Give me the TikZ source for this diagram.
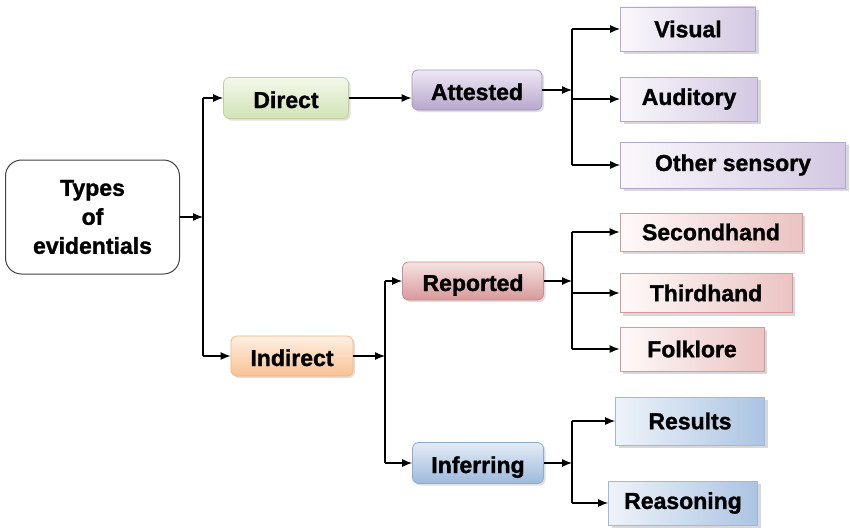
\documentclass[tikz,border=0pt]{standalone}
\usepackage{fontspec}
\setmainfont{Liberation Sans}[BoldFeatures={FakeBold=1.3}]
\usetikzlibrary{arrows.meta,shadows}
\definecolor{grnA}{HTML}{F3F8EA}\definecolor{grnB}{HTML}{D2E3B6}\definecolor{grnD}{HTML}{BCD49A}
\definecolor{purA}{HTML}{EEE8F5}\definecolor{purB}{HTML}{B7A6CC}\definecolor{purD}{HTML}{A593BE}
\definecolor{lpuA}{HTML}{FAF8FC}\definecolor{lpuB}{HTML}{D3C8E2}
\definecolor{redA}{HTML}{F6E3E3}\definecolor{redB}{HTML}{D7999A}\definecolor{redD}{HTML}{CF8A8B}
\definecolor{lreA}{HTML}{FFFAFA}\definecolor{lreB}{HTML}{EBC3C3}
\definecolor{orA}{HTML}{FEF0E3}\definecolor{orB}{HTML}{F9C192}\definecolor{orD}{HTML}{F5B47E}
\definecolor{bluA}{HTML}{E4ECF6}\definecolor{bluB}{HTML}{9DB9DC}\definecolor{bluD}{HTML}{8EAAD0}
\definecolor{lblA}{HTML}{EEF3FA}\definecolor{lblB}{HTML}{ABC4E2}
\tikzset{
  txt/.style={font=\fontsize{23}{29}\selectfont\bfseries, text=black, inner sep=0pt, align=center},
  mid/.style={txt, text height=20pt, text depth=0pt, rounded corners=6pt, line width=0.8pt, drop shadow={shadow xshift=2pt,shadow yshift=-2pt,fill=black!25}},
  leaf/.style={txt, line width=0.8pt, drop shadow={shadow xshift=3pt,shadow yshift=-3pt,fill=black!30}},
  gbox/.style={mid, draw=grnD, top color=grnA, bottom color=grnB},
  pbox/.style={mid, draw=purD, top color=purA, bottom color=purB},
  rbox/.style={mid, draw=redD, top color=redA, bottom color=redB},
  obox/.style={mid, draw=orD, top color=orA, bottom color=orB},
  bbox/.style={mid, draw=bluD, top color=bluA, bottom color=bluB},
  pleaf/.style={leaf, draw=purB, left color=lpuA, right color=lpuB},
  rleaf/.style={leaf, draw=redB, left color=lreA, right color=lreB},
  bleaf/.style={leaf, draw=bluB, left color=lblA, right color=lblB},
  conn/.style={line width=1.2pt, draw=black},
  arr/.style={conn, -{Latex[length=10pt,width=8pt]}},
}
\begin{document}
\begin{tikzpicture}[x=1pt,y=-1pt]
\useasboundingbox (0,0) rectangle (850,527);
\node[txt, draw=black!75, line width=1pt, rounded corners=16pt, fill=white, minimum width=174pt, minimum height=114pt] (types) at (92.5,217) {Types\\of\\evidentials};
\node[gbox, minimum width=125pt, minimum height=41pt] (direct) at (286,98) {Direct};
\node[pbox, minimum width=130pt, minimum height=40pt] (attested) at (477,90) {Attested};
\node[pleaf, minimum width=135pt, minimum height=44pt] (visual) at (688,29) {Visual};
\node[pleaf, minimum width=137pt, minimum height=44pt] (auditory) at (689,99) {Auditory};
\node[pleaf, minimum width=225pt, minimum height=46pt] (other) at (733,165) {Other sensory};
\node[obox, minimum width=122pt, minimum height=40pt] (indirect) at (292,356) {Indirect};
\node[rbox, minimum width=141pt, minimum height=38pt] (reported) at (473,281) {Reported};
\node[rleaf, minimum width=182pt, minimum height=38pt] (second) at (711,232) {Secondhand};
\node[rleaf, minimum width=172pt, minimum height=39pt] (third) at (706,293) {Thirdhand};
\node[rleaf, minimum width=144pt, minimum height=44pt] (folk) at (692,349) {Folklore};
\node[bbox, minimum width=131pt, minimum height=41pt] (infer) at (478,463) {Inferring};
\node[bleaf, minimum width=149pt, minimum height=48pt] (results) at (690,421) {Results};
\node[bleaf, minimum width=149pt, minimum height=44pt] (reason) at (683,503) {Reasoning};
% junctions
\coordinate (jT) at (203,0 |- types.east);
\coordinate (jA) at (572,0 |- attested.east);
\coordinate (jI) at (385,0 |- indirect.east);
\coordinate (jR) at (572,0 |- reported.east);
\coordinate (jF) at (572,0 |- infer.east);
% level 1
\draw[arr] (types.east) -- (jT);
\draw[conn] (direct.west -| jT) -- (indirect.west -| jT);
\draw[arr] (direct.west -| jT) -- (direct.west);
\draw[arr] (indirect.west -| jT) -- (indirect.west);
% direct
\draw[arr] (direct.east) -- (attested.west |- direct.east);
\draw[arr] (attested.east) -- (jA);
\draw[conn] (visual.west -| jA) -- (other.west -| jA);
\draw[arr] (visual.west -| jA) -- (visual.west);
\draw[arr] (auditory.west -| jA) -- (auditory.west);
\draw[arr] (other.west -| jA) -- (other.west);
% indirect
\draw[arr] (indirect.east) -- (jI);
\draw[conn] (reported.west -| jI) -- (infer.west -| jI);
\draw[arr] (reported.west -| jI) -- (reported.west);
\draw[arr] (infer.west -| jI) -- (infer.west);
\draw[arr] (reported.east) -- (jR);
\draw[conn] (second.west -| jR) -- (folk.west -| jR);
\draw[arr] (second.west -| jR) -- (second.west);
\draw[arr] (third.west -| jR) -- (third.west);
\draw[arr] (folk.west -| jR) -- (folk.west);
\draw[arr] (infer.east) -- (jF);
\draw[conn] (results.west -| jF) -- (reason.west -| jF);
\draw[arr] (results.west -| jF) -- (results.west);
\draw[arr] (reason.west -| jF) -- (reason.west);
\end{tikzpicture}
\end{document}
